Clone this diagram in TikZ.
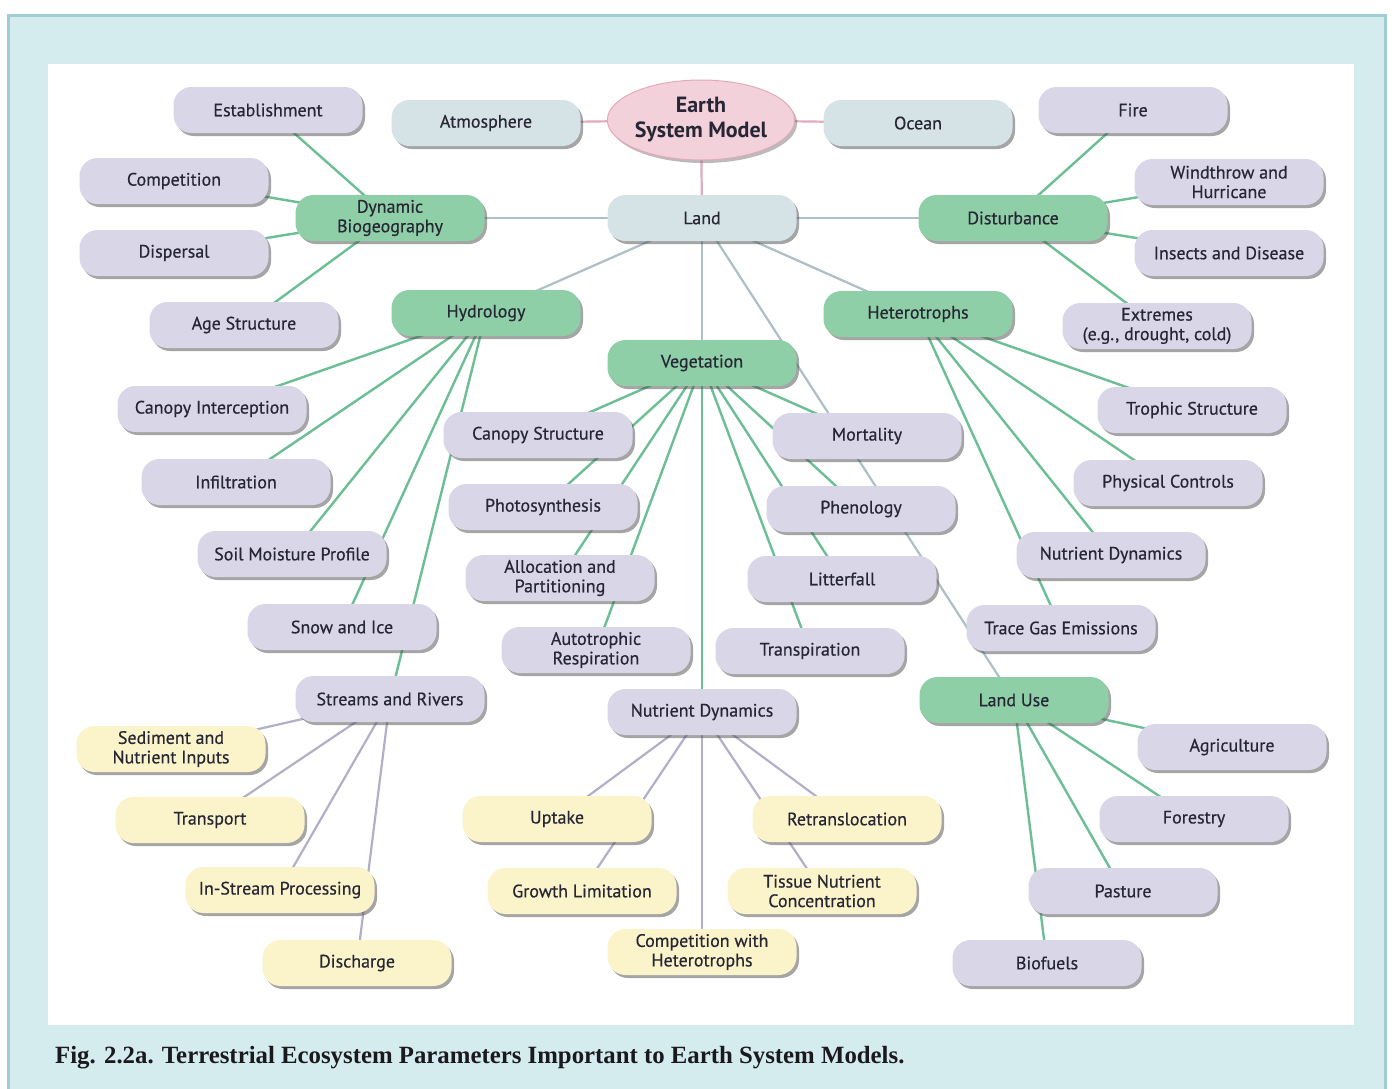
\documentclass[tikz,border=0pt]{standalone}
\usepackage{fontspec}
\setmainfont{PT Sans}
\newfontfamily\boxfont{PT Sans}[FakeBold=0.5]
\newfontfamily\capfont{Liberation Serif}
\usetikzlibrary{shapes.geometric,shadows,backgrounds}
\definecolor{frameBg}{RGB}{213,236,239}
\definecolor{frameLine}{RGB}{158,206,211}
\definecolor{lavFill}{RGB}{217,214,232}
\definecolor{greenFill}{RGB}{143,207,167}
\definecolor{blueFill}{RGB}{213,227,230}
\definecolor{yelFill}{RGB}{251,244,202}
\definecolor{pinkFill}{RGB}{242,209,218}
\definecolor{pinkLine}{RGB}{226,170,186}
\definecolor{greenLine}{RGB}{108,190,148}
\definecolor{blueLine}{RGB}{172,192,197}
\definecolor{lavLine}{RGB}{178,175,200}
\definecolor{txt}{RGB}{38,38,52}
\definecolor{capTxt}{RGB}{25,25,30}
\tikzset{
  boxbase/.style={rounded corners=18pt, minimum width=189pt, minimum height=46pt,
    inner sep=0pt, align=center, text=txt,
    font=\boxfont\fontsize{18}{19.5}\selectfont,
    drop shadow={shadow xshift=2.5pt, shadow yshift=-3pt, opacity=0.5, fill=black!70}},
  lavbox/.style={boxbase, fill=lavFill},
  greenbox/.style={boxbase, fill=greenFill},
  bluebox/.style={boxbase, fill=blueFill},
  yelbox/.style={boxbase, fill=yelFill},
  esmnode/.style={ellipse, minimum width=172pt, minimum height=80pt, inner sep=0pt,
    align=center, fill=pinkFill, draw=pinkLine, line width=1pt, text=txt,
    font=\fontsize{22}{25}\selectfont\bfseries,
    drop shadow={shadow xshift=2.5pt, shadow yshift=-3pt, opacity=0.45, fill=black!60}},
  pinkE/.style={draw=pinkLine, line width=2.2pt},
  blueE/.style={draw=blueLine, line width=2.2pt},
  greenE/.style={draw=greenLine, line width=2.4pt},
  lavE/.style={draw=lavLine, line width=2.2pt},
}
\begin{document}
\begin{tikzpicture}[x=1pt,y=-1pt]
\useasboundingbox (0,0) rectangle (1392,1088);
% nodes
\node[esmnode] (esm) at (701,120) {Earth\\System Model};
\node[bluebox] (atm) at (486,123) {Atmosphere};
\node[bluebox] (ocean) at (918,123) {Ocean};
\node[bluebox] (land) at (702,218) {Land};
\node[lavbox] (estab) at (268,110) {Establishment};
\node[lavbox] (compet) at (174,181) {Competition};
\node[greenbox] (dynbio) at (390,218) {Dynamic\\Biogeography};
\node[lavbox] (dispers) at (174,253) {Dispersal};
\node[lavbox] (agestr) at (244,325) {Age Structure};
\node[greenbox] (hydro) at (486,313) {Hydrology};
\node[greenbox] (veg) at (702,363) {Vegetation};
\node[greenbox] (het) at (918,314) {Heterotrophs};
\node[lavbox] (fire) at (1133,110) {Fire};
\node[lavbox] (wind) at (1229,182) {Windthrow and\\Hurricane};
\node[greenbox] (dist) at (1013,218) {Disturbance};
\node[lavbox] (insects) at (1229,253) {Insects and Disease};
\node[lavbox] (extremes) at (1157,326) {Extremes\\(e.g., drought, cold)};
\node[lavbox] (canint) at (212,409) {Canopy Interception};
\node[lavbox] (canstr) at (538,435) {Canopy Structure};
\node[lavbox] (mort) at (867,436) {Mortality};
\node[lavbox] (troph) at (1192,410) {Trophic Structure};
\node[lavbox] (infil) at (236,482) {Infiltration};
\node[lavbox] (photo) at (543,507) {Photosynthesis};
\node[lavbox] (phen) at (861,509) {Phenology};
\node[lavbox] (phys) at (1168,483) {Physical Controls};
\node[lavbox] (soil) at (292,554) {Soil Moisture Profile};
\node[lavbox] (alloc) at (560,578) {Allocation and\\Partitioning};
\node[lavbox] (litter) at (842,579) {Litterfall};
\node[lavbox] (ndr) at (1111,555) {Nutrient Dynamics};
\node[lavbox] (snow) at (342,627) {Snow and Ice};
\node[lavbox] (autot) at (596,650) {Autotrophic\\Respiration};
\node[lavbox] (transp) at (810,651) {Transpiration};
\node[lavbox] (trace) at (1061,628) {Trace Gas Emissions};
\node[lavbox] (streams) at (390,699) {Streams and Rivers};
\node[lavbox] (ndc) at (702,712) {Nutrient Dynamics};
\node[greenbox] (landuse) at (1014,700) {Land Use};
\node[yelbox] (sedim) at (171,749) {Sediment and\\Nutrient Inputs};
\node[lavbox] (agri) at (1232,747) {Agriculture};
\node[yelbox] (transport) at (210,820) {Transport};
\node[yelbox] (uptake) at (557,819) {Uptake};
\node[yelbox] (retrans) at (847,819) {Retranslocation};
\node[lavbox] (forest) at (1194,819) {Forestry};
\node[yelbox] (instream) at (280,890) {In-Stream Processing};
\node[yelbox] (growth) at (582,891) {Growth Limitation};
\node[yelbox] (tissue) at (822,891) {Tissue Nutrient\\Concentration};
\node[lavbox] (pasture) at (1123,891) {Pasture};
\node[yelbox] (compH) at (702,952) {Competition with\\Heterotrophs};
\node[yelbox] (discharge) at (357,963) {Discharge};
\node[lavbox] (biofuel) at (1047,963) {Biofuels};
% caption
\node[anchor=base west, inner sep=0pt, text=capTxt,
  font=\capfont\bfseries\fontsize{24.8}{28}\selectfont] (cap) at (55,1063)
  {Fig. 2.2a. Terrestrial Ecosystem Parameters Important to Earth System Models.};
% background: frame, panel, connectors
\begin{pgfonlayer}{background}
\fill[white] (0,0) rectangle (1392,1088);
\draw[fill=frameBg, draw=frameLine, line width=3pt] (8,15) rectangle (1385,1100);
\fill[white] (48,64) rectangle (1354,1025);
% Earth system model
\draw[pinkE] (esm.center) -- (atm.center);
\draw[pinkE] (esm.center) -- (ocean.center);
\draw[pinkE] (esm.center) -- (land.center);
% land
\foreach \t in {dynbio,dist,hydro,veg,het,landuse}
  \draw[blueE] (land.center) -- (\t.center);
% dynamic biogeography
\foreach \t in {estab,compet,dispers,agestr}
  \draw[greenE] (dynbio.center) -- (\t.center);
% disturbance
\foreach \t in {fire,wind,insects,extremes}
  \draw[greenE] (dist.center) -- (\t.center);
% hydrology
\foreach \t in {canint,infil,soil,snow,streams}
  \draw[greenE] (hydro.center) -- (\t.center);
% vegetation
\foreach \t in {canstr,photo,alloc,autot,ndc,mort,phen,litter,transp}
  \draw[greenE] (veg.center) -- (\t.center);
% heterotrophs
\foreach \t in {troph,phys,ndr,trace}
  \draw[greenE] (het.center) -- (\t.center);
% land use
\foreach \t in {agri,forest,pasture,biofuel}
  \draw[greenE] (landuse.center) -- (\t.center);
% streams and rivers
\foreach \t in {sedim,transport,instream,discharge}
  \draw[lavE] (streams.center) -- (\t.center);
% nutrient dynamics
\foreach \t in {uptake,growth,compH,retrans,tissue}
  \draw[lavE] (ndc.center) -- (\t.center);
\end{pgfonlayer}
\end{tikzpicture}
\end{document}
